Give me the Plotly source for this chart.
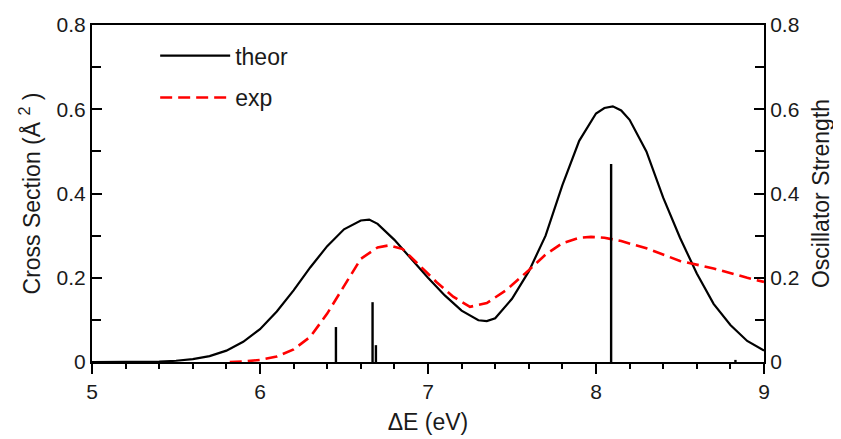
import plotly.graph_objects as go

# Theoretical cross section curve
theor_x = [5.0, 5.2, 5.4, 5.5, 5.6, 5.7, 5.8, 5.9, 6.0, 6.1, 6.2, 6.3, 6.4, 6.5,
           6.6, 6.65, 6.7, 6.8, 6.9, 7.0, 7.1, 7.2, 7.3, 7.35, 7.4, 7.5, 7.6,
           7.7, 7.8, 7.9, 8.0, 8.05, 8.1, 8.15, 8.2, 8.3, 8.4, 8.5, 8.6, 8.7,
           8.8, 8.9, 9.0]
theor_y = [0.0, 0.0, 0.001, 0.003, 0.007, 0.014, 0.027, 0.048, 0.078, 0.12,
           0.17, 0.225, 0.275, 0.315, 0.336, 0.338, 0.328, 0.29, 0.245, 0.2,
           0.158, 0.122, 0.099, 0.097, 0.104, 0.15, 0.215, 0.3, 0.42, 0.525,
           0.59, 0.603, 0.607, 0.597, 0.575, 0.5, 0.39, 0.295, 0.21, 0.138,
           0.088, 0.05, 0.027]

# Experimental cross section curve
exp_x = [5.82, 5.9, 6.0, 6.1, 6.2, 6.3, 6.4, 6.5, 6.6, 6.7, 6.77, 6.85, 6.95,
         7.05, 7.15, 7.25, 7.35, 7.47, 7.6, 7.7, 7.8, 7.9, 7.97, 8.05, 8.15,
         8.3, 8.5, 8.7, 8.9, 9.0]
exp_y = [0.0, 0.001, 0.005, 0.013, 0.03, 0.06, 0.115, 0.18, 0.245, 0.272,
         0.277, 0.268, 0.228, 0.19, 0.155, 0.131, 0.14, 0.172, 0.218, 0.255,
         0.282, 0.295, 0.297, 0.295, 0.287, 0.27, 0.24, 0.222, 0.2, 0.19]

# Oscillator strength sticks
stick_x = [6.452, 6.67, 6.69, 8.09, 8.83]
stick_f = [0.083, 0.142, 0.04, 0.47, 0.005]

sx, sy = [], []
for x, f in zip(stick_x, stick_f):
    sx += [x, x, None]
    sy += [0, f, None]

FONT = "Liberation Sans, Arial, sans-serif"
TXT = "#1a1a1a"
TITLE_SIZE = 23

fig = go.Figure()
fig.add_trace(go.Scatter(x=theor_x, y=theor_y, mode="lines", name="theor",
                         line=dict(color="black", width=2.2),
                         legendgroup="a"))
fig.add_trace(go.Scatter(x=exp_x, y=exp_y, mode="lines", name="exp",
                         line=dict(color="#ff0000", width=2.6, dash="12px,6px"),
                         legendgroup="b"))
fig.add_trace(go.Scatter(x=sx, y=sy, mode="lines", name="osc",
                         line=dict(color="black", width=2.4),
                         yaxis="y2", showlegend=False))

common_y = dict(range=[0, 0.8], dtick=0.2, ticks="inside", ticklen=10,
                tickwidth=2, tickcolor="black", showline=True, linewidth=2,
                linecolor="black", showgrid=False, zeroline=False,
                automargin=False,
                minor=dict(dtick=0.1, ticks="inside", ticklen=9, tickwidth=2,
                           tickcolor="black", showgrid=False),
                tickfont=dict(size=21, color=TXT))

fig.update_layout(
    width=833, height=431,
    margin=dict(l=84, r=77, t=17, b=76.5),
    paper_bgcolor="white", plot_bgcolor="white",
    font=dict(family=FONT, size=20, color=TXT),
    showlegend=True,
    legend=dict(x=0.094, y=0.973, xanchor="left", yanchor="top",
                bgcolor="rgba(0,0,0,0)", font=dict(size=TITLE_SIZE, color=TXT),
                itemwidth=70, tracegroupgap=9, traceorder="grouped"),
    xaxis=dict(range=[5, 9], dtick=1, tick0=5, ticks="outside", ticklen=10,
               tickwidth=2, tickcolor="black", showline=True, linewidth=2,
               linecolor="black", mirror=True, showgrid=False, zeroline=False,
               automargin=False,
               minor=dict(dtick=0.2, ticks="outside", ticklen=5, tickwidth=2,
                          tickcolor="black", showgrid=False),
               title=dict(text="ΔE (eV)", standoff=12,
                          font=dict(size=TITLE_SIZE, color=TXT)),
               tickfont=dict(size=21, color=TXT)),
    yaxis=dict(**common_y,
               title=dict(text="Cross Section (Å\u00a0<sup>2</sup>\u00a0)",
                          standoff=10,
                          font=dict(size=TITLE_SIZE, color=TXT))),
    yaxis2=dict(**common_y, overlaying="y", side="right",
                title=dict(text="Oscillator Strength", standoff=14,
                           font=dict(size=TITLE_SIZE, color=TXT))),
)

fig.write_html("out.html")
